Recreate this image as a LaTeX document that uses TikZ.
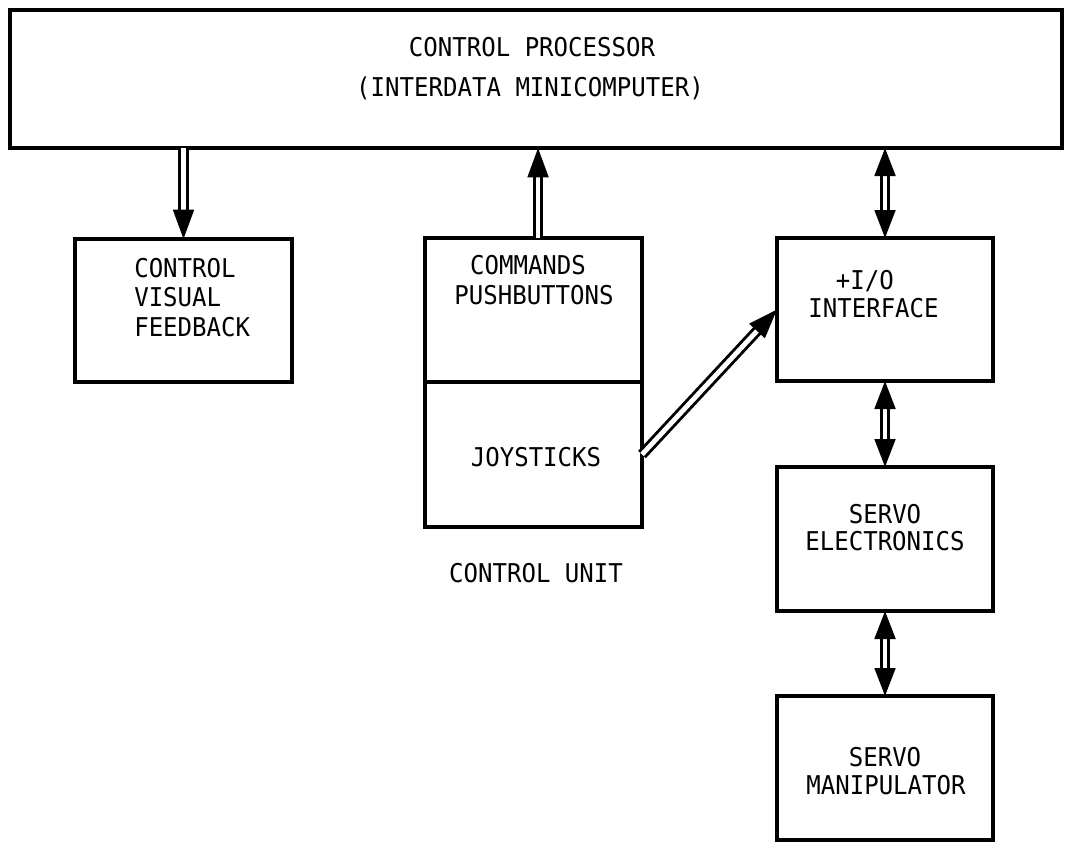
\documentclass[tikz,border=0pt]{standalone}
\usepackage{fontspec}
\newfontfamily\plotfont[FakeStretch=0.93]{DejaVu Sans Mono}
\usetikzlibrary{arrows.meta}
\begin{document}
\begin{tikzpicture}[x=0.75pt,y=-0.75pt,
  box/.style={draw, line width=2.5pt, inner sep=0pt, outer sep=0pt},
  txt/.style={font=\plotfont\fontsize{19.4}{22}\selectfont, inner sep=0pt, anchor=base},
  txtl/.style={txt, anchor=base west},
  dbl/.style={draw=black, line width=2.2pt, double=white, double distance=3.6pt},
  tip/.style={-{Triangle[length=22pt,width=15.5pt]}},
  tips/.style={{Triangle[length=21pt,width=15.5pt]}-{Triangle[length=21pt,width=15.5pt]}}
]
\useasboundingbox (0,0) rectangle (1069,846);

% blocks
\node[box, minimum width=1052*0.75pt, minimum height=138*0.75pt] (top) at (536,79) {};
\node[box, minimum width=217*0.75pt, minimum height=143*0.75pt] (cvf) at (183.5,310.5) {};
\node[box, minimum width=217*0.75pt, minimum height=144*0.75pt] (cmd) at (533.5,310) {};
\node[box, minimum width=217*0.75pt, minimum height=145*0.75pt] (joy) at (533.5,454.5) {};
\node[box, minimum width=216*0.75pt, minimum height=143*0.75pt] (io) at (885,309.5) {};
\node[box, minimum width=216*0.75pt, minimum height=144*0.75pt] (se) at (885,539) {};
\node[box, minimum width=216*0.75pt, minimum height=144*0.75pt] (sm) at (885,768) {};

% labels
\node[txt] (t1) at (532,56) {CONTROL PROCESSOR};
\node[txt] (t2) at (530,96) {(INTERDATA MINICOMPUTER)};
\node[txtl] (c1) at (134,277) {CONTROL};
\node[txtl] (c2) at (134,306) {VISUAL};
\node[txtl] (c3) at (134,336) {FEEDBACK};
\node[txt] (m1) at (528,274) {COMMANDS};
\node[txt] (m2) at (534,304) {PUSHBUTTONS};
\node[txt] (j1) at (536,466) {JOYSTICKS};
\node[txt] (i1) at (872,289) {\llap{+}I/O};
\node[txt] (i2) at (873.5,317) {INTERFACE};
\node[txt] (s1) at (885,523) {SERVO};
\node[txt] (s2) at (885,550) {ELECTRONICS};
\node[txt] (r1) at (885,766) {SERVO};
\node[txt] (r2) at (886,794) {MANIPULATOR};
\node[txt] (cu) at (536,582) {CONTROL UNIT};

% data paths
\draw[dbl, tip] (cvf.north |- top.south) -- (cvf.north);
\draw[dbl, tip] ([xshift=3.4pt]cmd.north) -- ([xshift=3.4pt]cmd.north |- top.south);
\draw[dbl, tips] (io.north |- top.south) -- (io.north);
\draw[dbl, tips] (io.south) -- (se.north);
\draw[dbl, tips] (se.south) -- (sm.north);
\draw[dbl, tip] (joy.east) -- (io.west);
\end{tikzpicture}
\end{document}
